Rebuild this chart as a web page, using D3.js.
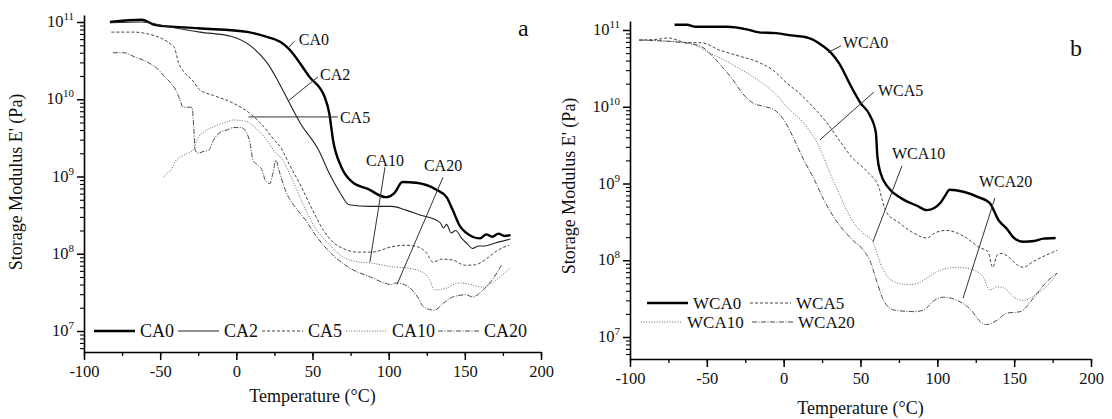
<!DOCTYPE html>
<html><head><meta charset="utf-8">
<script src="https://cdn.jsdelivr.net/npm/d3@7"></script>
<style>
html,body{margin:0;padding:0;background:#fff;}
svg{display:block;}
text{font-family:"Liberation Serif","Times New Roman",serif;fill:#111;}
</style></head>
<body><svg id="chart" width="1112" height="419"></svg>
<script>
// ---------- DATA (temperature °C, storage modulus Pa) ----------
const xTickLabels = [-100, -50, 0, 50, 100, 150, 200];
const yTickExponents = [7, 8, 9, 10, 11];

const seriesA = ["CA0", "CA2", "CA5", "CA10", "CA20"];
const seriesB = ["WCA0", "WCA5", "WCA10", "WCA20"];

const CA0 = [[-83,1.00e11],[-62,1.07e11],[-53,9.1e10],[-25,8.3e10],[8,7.4e10],[19,6.5e10],[29,5.5e10],[34,4.6e10],[48,1.95e10],[58,1.07e10],[61,6.6e9],[63.5,2.95e9],[69,1.32e9],[76,8.5e8],[87,6.8e8],[98,5.4e8],[104,6.2e8],[109,8.5e8],[118,8.3e8],[131,6.8e8],[138,5.4e8],[142,3.7e8],[147,2.24e8],[151,1.86e8],[155,1.66e8],[160,1.58e8],[164,1.78e8],[168,1.66e8],[172,1.82e8],[176,1.70e8],[180,1.74e8]];
const CA2 = [[-83,9.8e10],[-62,1.0e11],[-45,8.7e10],[-24,7.4e10],[-3,6.5e10],[10,4.8e10],[20,3.0e10],[27,1.78e10],[33,1.05e10],[42,4.9e9],[54,2.2e9],[61,1.10e9],[68,6.2e8],[74,4.3e8],[87,4.1e8],[102,4.1e8],[111,3.7e8],[121,3.16e8],[130,2.8e8],[134,2.5e8],[136,2.15e8],[138,2.4e8],[141,1.86e8],[144,2.0e8],[148,1.58e8],[152,1.32e8],[155,1.17e8],[159,1.26e8],[163,1.26e8],[170,1.38e8],[180,1.55e8]];
const CA5 = [[-82,7.4e10],[-67,7.4e10],[-61,7.2e10],[-41,4.8e10],[-38,3.0e10],[-34,2.2e10],[-29,1.78e10],[-24,1.32e10],[-15,1.12e10],[-2,8.9e9],[10,6.3e9],[18,4.4e9],[25,2.95e9],[29,2.4e9],[35,1.41e9],[42,7.8e8],[50,3.7e8],[57,2.04e8],[64,1.38e8],[71,1.15e8],[79,1.05e8],[89,1.05e8],[102,1.23e8],[111,1.29e8],[119,1.23e8],[125,1.02e8],[129,7.8e7],[135,8.5e7],[142,8.3e7],[150,7.1e7],[157,7.2e7],[163,8.3e7],[172,1.12e8],[179,1.29e8]];
const CA10 = [[-48,9.8e8],[-45,1.12e9],[-43,1.20e9],[-40,1.58e9],[-37,1.78e9],[-32,2.0e9],[-28,2.24e9],[-26,2.95e9],[-21,3.8e9],[-15,4.4e9],[-6,5.1e9],[-2,5.4e9],[7,5.1e9],[14,4.0e9],[20,2.95e9],[26,2.0e9],[29,1.78e9],[37,8.9e8],[44,4.3e8],[52,2.14e8],[60,1.38e8],[70,9.1e7],[81,7.8e7],[88,7.6e7],[102,6.8e7],[113,6.5e7],[122,5.8e7],[127,4.6e7],[130,3.4e7],[138,3.6e7],[146,4.2e7],[154,4.0e7],[161,3.7e7],[168,4.2e7],[174,5.2e7],[180,6.6e7]];
const CA20 = [[-81,4.0e10],[-74,4.0e10],[-67,3.55e10],[-58,3.0e10],[-51,2.4e10],[-47,1.95e10],[-43,1.62e10],[-39,1.23e10],[-37,9.8e9],[-35,7.9e9],[-31,7.9e9],[-29,7.8e9],[-28,4.4e9],[-27,2.2e9],[-25,2.0e9],[-22,2.1e9],[-18,2.2e9],[-15,2.95e9],[-10,3.8e9],[-6,4.0e9],[-2,4.3e9],[3,4.3e9],[7,3.6e9],[9,2.7e9],[11,1.62e9],[14,1.41e9],[17,1.20e9],[19,8.9e8],[22,8.1e8],[24,1.10e9],[26,1.62e9],[28,1.20e9],[32,6.8e8],[40,3.7e8],[45,2.8e8],[52,1.74e8],[60,1.12e8],[73,6.8e7],[88,5.0e7],[102,4.0e7],[105,4.2e7],[114,3.6e7],[119,2.75e7],[123,2.04e7],[130,1.86e7],[136,2.3e7],[142,2.75e7],[151,2.95e7],[155,2.75e7],[162,3.4e7],[168,4.6e7],[174,7.1e7]];

const WCA0 = [[-71,1.17e11],[-63,1.17e11],[-57,1.10e11],[-48,1.10e11],[-37,1.10e11],[-24,1.02e11],[-16,9.3e10],[-5,9.1e10],[5,8.5e10],[16,7.9e10],[25,6.3e10],[31,5.0e10],[36,3.7e10],[44,1.82e10],[50,1.12e10],[56,7.8e9],[60,4.6e9],[61,2.24e9],[63,1.38e9],[68,8.9e8],[76,6.5e8],[87,5.1e8],[93,4.5e8],[98,4.8e8],[102,5.6e8],[105,6.9e8],[108,8.3e8],[117,7.8e8],[127,6.6e8],[134,5.6e8],[140,3.3e8],[145,2.6e8],[150,1.95e8],[156,1.74e8],[163,1.78e8],[169,1.91e8],[177,1.95e8]];
const WCA5 = [[-94,7.4e10],[-81,7.6e10],[-75,7.9e10],[-64,6.9e10],[-53,6.8e10],[-42,5.5e10],[-31,4.7e10],[-15,3.7e10],[-7,3.0e10],[2,2.04e10],[10,1.51e10],[19,1.0e10],[28,6.2e9],[36,3.7e9],[44,2.24e9],[55,1.38e9],[62,8.9e8],[64,6.2e8],[67,4.2e8],[75,3.1e8],[84,2.3e8],[93,1.95e8],[99,2.3e8],[106,2.45e8],[112,2.3e8],[119,1.95e8],[127,1.48e8],[133,1.29e8],[136,8.1e7],[139,1.17e8],[142,1.23e8],[147,1.07e8],[152,8.7e7],[156,8.1e7],[162,9.5e7],[171,1.17e8],[178,1.35e8]];
const WCA10 = [[-94,7.4e10],[-64,6.8e10],[-55,6.0e10],[-49,5.1e10],[-42,4.4e10],[-29,3.16e10],[-17,2.24e10],[-6,1.51e10],[4,9.1e9],[15,5.5e9],[24,2.75e9],[30,1.38e9],[35,8.3e8],[41,4.5e8],[47,2.8e8],[53,2.14e8],[58,1.74e8],[64,8.1e7],[70,5.5e7],[81,4.8e7],[87,5.0e7],[94,6.0e7],[102,7.4e7],[113,8.1e7],[124,7.4e7],[130,6.0e7],[134,4.1e7],[139,4.5e7],[143,4.4e7],[150,3.3e7],[156,3.0e7],[165,3.7e7],[173,5.0e7],[178,6.8e7]];
const WCA20 = [[-94,7.4e10],[-64,6.8e10],[-53,6.0e10],[-46,4.5e10],[-40,3.3e10],[-33,2.24e10],[-27,1.51e10],[-20,1.12e10],[-12,1.0e10],[-6,9.1e9],[0,6.8e9],[7,3.7e9],[13,2.04e9],[20,1.12e9],[26,6.2e8],[33,3.55e8],[45,1.82e8],[52,1.35e8],[56,1.0e8],[61,5.0e7],[65,3.0e7],[72,2.24e7],[85,2.14e7],[91,2.24e7],[98,3.0e7],[104,3.3e7],[113,3.0e7],[122,2.24e7],[128,1.58e7],[132,1.45e7],[139,1.66e7],[145,2.04e7],[154,2.14e7],[163,3.3e7],[171,5.2e7],[178,6.8e7]];

// annotation leaders: [label, textT, textE, anchor, lineT1, lineE1, lineT2, lineE2]
const annotA = [
  ["CA0", 41, 6.0e10, "start", 34, 4.6e10, 38, 5.6e10],
  ["CA2", 55, 2.1e10, "start", 34, 9.5e9, 53.6, 1.95e10],
  ["CA5", 68, 5.9e9, "start", 8, 5.9e9, 66.7, 5.9e9],
  ["CA10", 97.6, 1.62e9, "middle", 97.6, 1.32e9, 87.7, 7.8e7],
  ["CA20", 135.7, 1.38e9, "middle", 135.7, 9.8e8, 105.5, 4.0e7]
];
const annotB = [
  ["WCA0", 38.6, 6.8e10, "start", 28.8, 5.1e10, 37.3, 6.2e10],
  ["WCA5", 61.4, 1.62e10, "start", 23.6, 3.7e9, 58.7, 1.55e10],
  ["WCA10", 70.5, 2.5e9, "start", 77, 1.7e9, 58.1, 1.74e8],
  ["WCA20", 127.1, 1.05e9, "start", 137.5, 6.5e8, 116.7, 3.2e7]
];

// ---------- STYLES ----------
const styles = {
  "0":  {stroke:"#000", width:2.4, dash:null},
  "2":  {stroke:"#222", width:1.1, dash:null},
  "5":  {stroke:"#444", width:1,   dash:"3,2"},
  "10": {stroke:"#666", width:1,   dash:"1,1.6"},
  "20": {stroke:"#4a4a4a", width:1, dash:"5,1.5,1,1.5"}
};
const styleOf = name => styles[name.replace(/^W?CA/, "")];

const svg = d3.select("#chart");
const FONT = '"Liberation Serif","Times New Roman",serif';

function panel(cfg) {
  const g = svg.append("g");
  const x = d3.scaleLinear().domain([-100, 200]).range([cfg.x0, cfg.x1]);
  const yBase = d3.scaleLog().domain([1e7, 1e11]).range([cfg.y7, cfg.y11]);
  const y = d3.scaleLog().domain([yBase.invert(cfg.yBottom), yBase.invert(cfg.yTop)]).range([cfg.yBottom, cfg.yTop]);

  // x axis
  const xMinor = d3.range(-100, 201, 25);
  g.append("g").attr("transform", `translate(0,${cfg.yBottom})`)
    .call(d3.axisBottom(x).tickValues(xMinor).tickSize(4).tickFormat("").tickSizeOuter(0))
    .call(a => a.select(".domain").attr("stroke", "#000").attr("stroke-width", 1.6))
    .call(a => a.selectAll(".tick line").attr("stroke", "#000").attr("stroke-width", 1.3));
  g.append("g").attr("transform", `translate(0,${cfg.yBottom})`)
    .call(d3.axisBottom(x).tickValues(xTickLabels).tickSize(8).tickPadding(5).tickFormat(d3.format("d")).tickSizeOuter(0))
    .call(a => a.select(".domain").remove())
    .call(a => a.selectAll(".tick line").attr("stroke", "#000").attr("stroke-width", 1.5))
    .call(a => a.selectAll(".tick text").attr("font-family", FONT).attr("font-size", 16.5).attr("fill", "#111")
               .text(d => d < 0 ? "-" + Math.abs(d) : d));

  // y axis
  const minor = [];
  yTickExponents.concat([6, 11]).forEach(e => { for (let m = 2; m <= 9; m++) minor.push(m * Math.pow(10, e)); });
  const dom = y.domain();
  const minorIn = minor.filter(v => v >= dom[0] && v <= dom[1]);
  const majors = yTickExponents.map(e => Math.pow(10, e));
  g.append("g").attr("transform", `translate(${cfg.x0},0)`)
    .call(d3.axisLeft(y).tickValues(minorIn).tickSize(4).tickFormat("").tickSizeOuter(0))
    .call(a => a.select(".domain").attr("stroke", "#000").attr("stroke-width", 1.6))
    .call(a => a.selectAll(".tick line").attr("stroke", "#000").attr("stroke-width", 1.1));
  g.append("g").attr("transform", `translate(${cfg.x0},0)`)
    .call(d3.axisLeft(y).tickValues(majors).tickSize(7).tickFormat("").tickSizeOuter(0))
    .call(a => a.select(".domain").remove())
    .call(a => a.selectAll(".tick line").attr("stroke", "#000").attr("stroke-width", 1.5));
  yTickExponents.forEach(e => {
    const t = g.append("text").attr("x", cfg.x0 - 10).attr("y", y(Math.pow(10, e)) + 5)
      .attr("text-anchor", "end").attr("font-size", 16.5);
    t.append("tspan").text("10");
    t.append("tspan").attr("dy", -7).attr("font-size", 11).text(e);
  });

  // axis titles
  g.append("text").attr("x", (cfg.x0 + cfg.x1) / 2 + cfg.xtDx).attr("y", cfg.xtY)
    .attr("text-anchor", "middle").attr("font-size", 18).text("Temperature (°C)");
  g.append("text").attr("transform", `translate(${cfg.ytX},${cfg.ytY}) rotate(-90)`)
    .attr("text-anchor", "middle").attr("font-size", 18).text("Storage Modulus E' (Pa)");

  // lines
  const line = d3.line().x(d => x(d[0])).y(d => y(d[1])).curve(d3.curveMonotoneX);
  cfg.series.forEach(([name, data]) => {
    const s = styleOf(name);
    g.append("path").datum(data).attr("d", line).attr("fill", "none")
      .attr("stroke", s.stroke).attr("stroke-width", s.width)
      .attr("stroke-dasharray", s.dash).attr("stroke-linejoin", "round");
  });

  // annotations
  cfg.annot.forEach(([lab, tT, tE, anchor, t1, e1, t2, e2]) => {
    g.append("line").attr("x1", x(t1)).attr("y1", y(e1)).attr("x2", x(t2)).attr("y2", y(e2))
      .attr("stroke", "#333").attr("stroke-width", 1);
    g.append("text").attr("x", x(tT)).attr("y", y(tE)).attr("dy", "0.35em")
      .attr("text-anchor", anchor).attr("font-size", 16).text(lab);
  });

  // panel letter
  g.append("text").attr("x", cfg.letterX).attr("y", cfg.letterY).attr("font-size", 24).text(cfg.letter);

  // legend
  cfg.legend.forEach(([name, lx, ly]) => {
    const s = styleOf(name);
    g.append("line").attr("x1", lx).attr("x2", lx + 41).attr("y1", ly).attr("y2", ly)
      .attr("stroke", s.stroke).attr("stroke-width", s.width).attr("stroke-dasharray", s.dash);
    g.append("text").attr("x", lx + 46).attr("y", ly).attr("dy", "0.33em").attr("font-size", cfg.legendFont).text(name);
  });
}

panel({
  x0: 84, x1: 541, y7: 331, y11: 22, yBottom: 352, yTop: 15,
  xtY: 402, xtDx: 0, ytX: 22, ytY: 182, letter: "a", letterX: 518, letterY: 36,
  series: [["CA0", CA0], ["CA2", CA2], ["CA5", CA5], ["CA10", CA10], ["CA20", CA20]],
  annot: annotA, legendFont: 18,
  legend: [["CA0", 94, 331], ["CA2", 178, 331], ["CA5", 262, 331], ["CA10", 346, 331], ["CA20", 438, 331]]
});
panel({
  x0: 630, x1: 1091, y7: 337, y11: 30, yBottom: 359, yTop: 21,
  xtY: 414, xtDx: 0, ytX: 575, ytY: 186, letter: "b", letterX: 1070, letterY: 56,
  series: [["WCA0", WCA0], ["WCA5", WCA5], ["WCA10", WCA10], ["WCA20", WCA20]],
  annot: annotB, legendFont: 17,
  legend: [["WCA0", 647, 303], ["WCA5", 750, 303], ["WCA10", 641, 322], ["WCA20", 752, 322]]
});
</script></body></html>
